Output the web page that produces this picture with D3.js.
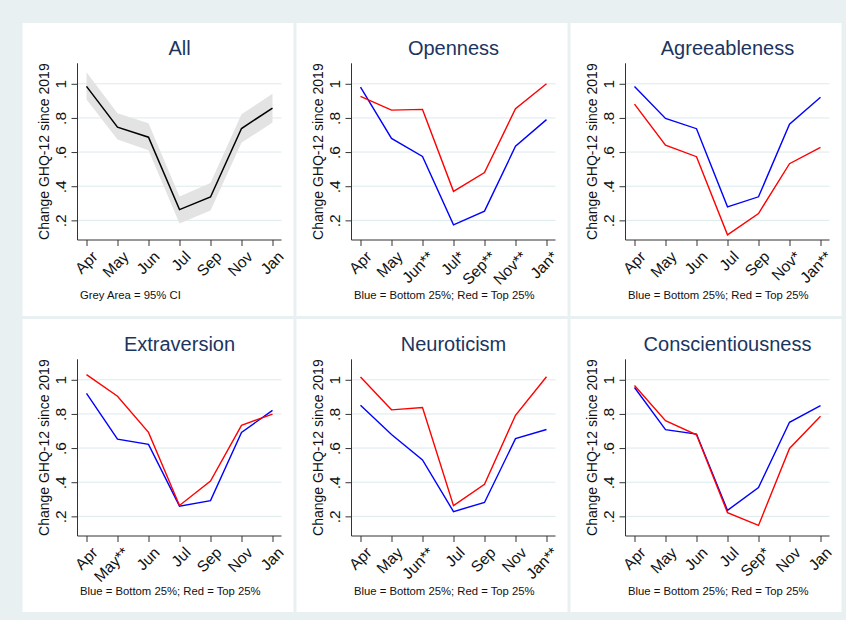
<!DOCTYPE html>
<html>
<head>
<meta charset="utf-8">
<script src="https://cdn.jsdelivr.net/npm/d3@7"></script>
<style>
  html, body { margin: 0; padding: 0; background: #e8f0f2; }
  svg { display: block; font-family: "Liberation Sans", Arial, sans-serif; }
</style>
</head>
<body>
<svg id="chart" width="846" height="620"></svg>
<script>
// Survey waves (x axis)
const months = ["Apr", "May", "Jun", "Jul", "Sep", "Nov", "Jan"];

// Y axis ticks
const yTicks = [0.2, 0.4, 0.6, 0.8, 1];
const yTickLabels = [".2", ".4", ".6", ".8", "1"];

// Whole sample: mean change and 95% confidence band
const allMean  = [0.985, 0.746, 0.687, 0.263, 0.337, 0.738, 0.858];
const allUpper = [1.067, 0.827, 0.769, 0.340, 0.419, 0.821, 0.942];
const allLower = [0.908, 0.673, 0.610, 0.181, 0.258, 0.654, 0.773];

// Personality traits: bottom 25% (blue) vs top 25% (red)
const opennessBottom = [0.980, 0.680, 0.574, 0.174, 0.254, 0.634, 0.790];
const opennessTop    = [0.926, 0.846, 0.850, 0.370, 0.480, 0.854, 1.000];
const opennessLabels = ["Apr", "May", "Jun**", "Jul*", "Sep**", "Nov**", "Jan*"];

const agreeBottom = [0.984, 0.797, 0.737, 0.279, 0.338, 0.763, 0.921];
const agreeTop    = [0.881, 0.640, 0.573, 0.115, 0.240, 0.532, 0.627];
const agreeLabels = ["Apr", "May", "Jun", "Jul", "Sep", "Nov*", "Jan**"];

const extraBottom = [0.920, 0.652, 0.622, 0.260, 0.292, 0.692, 0.821];
const extraTop    = [1.030, 0.904, 0.692, 0.264, 0.407, 0.733, 0.799];
const extraLabels = ["Apr", "May**", "Jun", "Jul", "Sep", "Nov", "Jan"];

const neuroBottom = [0.851, 0.679, 0.531, 0.228, 0.281, 0.655, 0.709];
const neuroTop    = [1.016, 0.824, 0.838, 0.263, 0.388, 0.792, 1.018];
const neuroLabels = ["Apr", "May", "Jun**", "Jul", "Sep", "Nov", "Jan**"];

const consBottom = [0.955, 0.708, 0.682, 0.235, 0.369, 0.751, 0.849];
const consTop    = [0.967, 0.761, 0.678, 0.222, 0.147, 0.598, 0.786];
const consLabels = ["Apr", "May", "Jun", "Jul", "Sep*", "Nov", "Jan"];

const yTitle = "Change GHQ-12 since 2019";
const noteAll = "Grey Area = 95% CI";
const noteGroups = "Blue = Bottom 25%; Red = Top 25%";

const panels = [
  { title: "All", labels: months, mean: allMean, upper: allUpper, lower: allLower, note: noteAll },
  { title: "Openness", labels: opennessLabels, bottom: opennessBottom, top: opennessTop, note: noteGroups },
  { title: "Agreeableness", labels: agreeLabels, bottom: agreeBottom, top: agreeTop, note: noteGroups },
  { title: "Extraversion", labels: extraLabels, bottom: extraBottom, top: extraTop, note: noteGroups },
  { title: "Neuroticism", labels: neuroLabels, bottom: neuroBottom, top: neuroTop, note: noteGroups },
  { title: "Conscientiousness", labels: consLabels, bottom: consBottom, top: consTop, note: noteGroups }
];

// Layout of the 3 x 2 grid
const svg = d3.select("#chart");
const outerX = 22.5, outerY = 23, panelW = 271, panelH = 293, gap = 3;
const axisLeftX = 55, axisRightX = 259, axisTopY = 40.3, axisBottomY = 217;

const x = d3.scalePoint().domain(d3.range(months.length)).range([64, 250]);
const y = d3.scaleLinear().domain([0.085, 1.12]).range([axisBottomY, axisTopY]);

const line = d3.line().x((d, i) => x(i)).y(d => y(d));

panels.forEach((p, k) => {
  const col = k % 3, row = Math.floor(k / 3);
  const g = svg.append("g")
    .attr("transform", `translate(${outerX + col * (panelW + gap)},${outerY + row * (panelH + gap)})`);

  g.append("rect").attr("width", panelW).attr("height", panelH).attr("fill", "#ffffff");

  // Gridlines
  g.append("g").selectAll("line").data(yTicks).join("line")
    .attr("x1", axisLeftX).attr("x2", axisRightX)
    .attr("y1", d => y(d)).attr("y2", d => y(d))
    .attr("stroke", "#dceaed").attr("stroke-width", 1);

  // Confidence band and lines
  if (p.mean) {
    const area = d3.area().x((d, i) => x(i)).y0((d, i) => y(p.lower[i])).y1(d => y(d));
    g.append("path").datum(p.upper).attr("d", area).attr("fill", "#e3e3e3");
    g.append("path").datum(p.mean).attr("d", line)
      .attr("fill", "none").attr("stroke", "#000").attr("stroke-width", 1.5);
  } else {
    g.append("path").datum(p.bottom).attr("d", line)
      .attr("fill", "none").attr("stroke", "#0000ff").attr("stroke-width", 1.4);
    g.append("path").datum(p.top).attr("d", line)
      .attr("fill", "none").attr("stroke", "#ff0000").attr("stroke-width", 1.4);
  }

  // Y axis
  const yAxis = d3.axisLeft(y).tickValues(yTicks)
    .tickFormat((d, i) => yTickLabels[i]).tickSize(6).tickSizeOuter(0);
  const ya = g.append("g").attr("transform", `translate(${axisLeftX},0)`).call(yAxis);
  ya.attr("font-size", 15.5).attr("font-family", null);
  ya.select(".domain").attr("d", `M0,${axisTopY}V${axisBottomY}`).attr("stroke", "#333");
  ya.selectAll(".tick line").attr("stroke", "#333");
  ya.selectAll(".tick text")
    .attr("transform", "rotate(-90)")
    .attr("x", 0).attr("y", -12).attr("dy", null)
    .attr("text-anchor", "middle")
    .attr("fill", "#111");

  // X axis
  const xAxis = d3.axisBottom(x).tickFormat((d, i) => p.labels[i]).tickSize(6).tickSizeOuter(0);
  const xa = g.append("g").attr("transform", `translate(0,${axisBottomY})`).call(xAxis);
  xa.attr("font-size", 15.5).attr("font-family", null);
  xa.select(".domain").attr("d", `M${axisLeftX},0H${axisRightX}`).attr("stroke", "#333");
  xa.selectAll(".tick line").attr("stroke", "#333");
  xa.selectAll(".tick text")
    .attr("transform", "translate(4,10) rotate(-45)")
    .attr("x", 0).attr("y", 0).attr("dy", "0.7em")
    .attr("text-anchor", "end")
    .attr("fill", "#111");

  // Y title
  g.append("text")
    .attr("transform", `translate(26,${(axisTopY + axisBottomY) / 2}) rotate(-90)`)
    .attr("text-anchor", "middle").attr("font-size", 14).attr("fill", "#111")
    .text(yTitle);

  // Panel title
  g.append("text")
    .attr("x", (axisLeftX + axisRightX) / 2).attr("y", 32)
    .attr("text-anchor", "middle").attr("font-size", 20).attr("fill", "#1c355e")
    .text(p.title);

  // Note
  g.append("text")
    .attr("x", 57.5).attr("y", 276)
    .attr("font-size", 11.3).attr("fill", "#111")
    .text(p.note);
});
</script>
</body>
</html>
